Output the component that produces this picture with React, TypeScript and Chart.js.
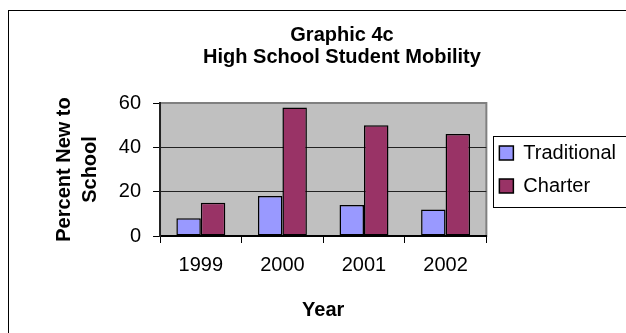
import React, { useEffect, useRef } from "react";
import { Chart, registerables } from "chart.js";

Chart.register(...registerables);

// Data
const years = ["1999", "2000", "2001", "2002"];
const traditional = [8, 18, 14, 12];
const charter = [15, 58, 50, 46];
const seriesNames = ["Traditional", "Charter"];
const chartTitle = ["Graphic 4c", "High School Student Mobility"];
const yAxisTitle = ["Percent New to", "School"];
const xAxisTitle = "Year";

const FONT = '"Liberation Sans", Arial, sans-serif';

// Grey plot area with its border, and a box around the legend
const framePlugin = {
  id: "excelFrame",
  beforeDraw(chart: any) {
    const { ctx, chartArea: a } = chart;
    ctx.save();
    ctx.fillStyle = "#c0c0c0";
    ctx.fillRect(a.left, a.top, a.right - a.left, a.bottom - a.top);
    ctx.strokeStyle = "#808080";
    ctx.lineWidth = 2;
    ctx.strokeRect(a.left, a.top, a.right - a.left, a.bottom - a.top);
    ctx.restore();
  },
  afterDraw(chart: any) {
    const lg = chart.legend;
    if (!lg || !lg.legendHitBoxes || !lg.legendHitBoxes.length) return;
    const boxes = lg.legendHitBoxes;
    const first = boxes[0];
    const last = boxes[boxes.length - 1];
    const { ctx } = chart;
    ctx.save();
    ctx.strokeStyle = "#000";
    ctx.lineWidth = 1;
    const x = Math.round(lg.left + 7) + 0.5;
    const y = Math.round(first.top - 7) + 0.5;
    const bottom = Math.round(last.top + last.height + 11) + 0.5;
    ctx.strokeRect(x, y, chart.width + 10 - x, bottom - y);
    ctx.restore();
  },
};

export default function App() {
  const canvasRef = useRef<HTMLCanvasElement | null>(null);

  useEffect(() => {
    const canvas = canvasRef.current;
    if (!canvas) return;
    Chart.defaults.font.family = FONT;
    Chart.defaults.color = "#000";

    const chart = new Chart(canvas, {
      type: "bar",
      data: {
        labels: years,
        datasets: [
          {
            label: seriesNames[0],
            data: traditional,
            backgroundColor: "#9999ff",
            borderColor: "#000",
            borderWidth: 1.5,
            borderSkipped: false,
          },
          {
            label: seriesNames[1],
            data: charter,
            backgroundColor: "#993366",
            borderColor: "#000",
            borderWidth: 1.5,
            borderSkipped: false,
          },
        ],
      },
      options: {
        animation: false,
        responsive: false,
        maintainAspectRatio: false,
        devicePixelRatio: 1,
        layout: { padding: { left: 58, right: 0, top: 0, bottom: 0 } },
        datasets: {
          bar: { categoryPercentage: 0.6, barPercentage: 1.0 },
        },
        plugins: {
          tooltip: { enabled: false },
          title: {
            display: true,
            text: chartTitle,
            color: "#000",
            font: { family: FONT, size: 20, weight: "bold", lineHeight: 1.1 },
            padding: { top: 24.5, bottom: 34.5 },
          },
          legend: {
            display: true,
            position: "right",
            fullSize: false,
            labels: {
              color: "#000",
              font: { family: FONT, size: 20 },
              boxWidth: 14,
              boxHeight: 14,
              padding: 13,
            },
          },
        },
        scales: {
          x: {
            offset: true,
            grid: {
              offset: true,
              drawOnChartArea: false,
              drawTicks: true,
              tickLength: 7,
              tickColor: "#000",
              tickWidth: 1,
            },
            border: { display: true, color: "#000", width: 2 },
            ticks: {
              color: "#000",
              font: { family: FONT, size: 20 },
              padding: 10,
              maxRotation: 0,
              autoSkip: false,
            },
            title: {
              display: true,
              text: xAxisTitle,
              color: "#000",
              font: { family: FONT, size: 20, weight: "bold", lineHeight: 1.2 },
              padding: { top: 11.8, bottom: 10.2 },
            },
          },
          y: {
            min: 0,
            max: 60,
            ticks: {
              stepSize: 20,
              color: "#000",
              font: { family: FONT, size: 20 },
              padding: 12,
            },
            grid: {
              color: (c: any) => (c.tick && c.tick.value === 60 ? "rgba(0,0,0,0)" : "#222"),
              lineWidth: 1,
              drawTicks: true,
              tickLength: 7,
              tickColor: "#000",
              tickWidth: 1,
            },
            border: { display: true, color: "#222", width: 2 },
            title: {
              display: true,
              text: yAxisTitle,
              color: "#000",
              font: { family: FONT, size: 20, weight: "bold", lineHeight: 1.3 },
              padding: { top: -6.8, bottom: 3.6 },
            },
          },
        },
      },
      plugins: [framePlugin],
    } as any);

    return () => chart.destroy();
  }, []);

  return (
    <div
      style={{
        position: "fixed",
        left: 0,
        top: 0,
        width: 626,
        height: 333,
        overflow: "hidden",
        background: "#fff",
      }}
    >
      <div
        style={{
          position: "absolute",
          left: 8,
          top: 10,
          width: 700,
          height: 400,
          border: "1.5px solid #000",
          boxSizing: "border-box",
        }}
      />
      <canvas
        ref={canvasRef}
        width={626}
        height={333}
        style={{ position: "absolute", left: 0, top: 0, width: 626, height: 333 }}
      />
    </div>
  );
}
